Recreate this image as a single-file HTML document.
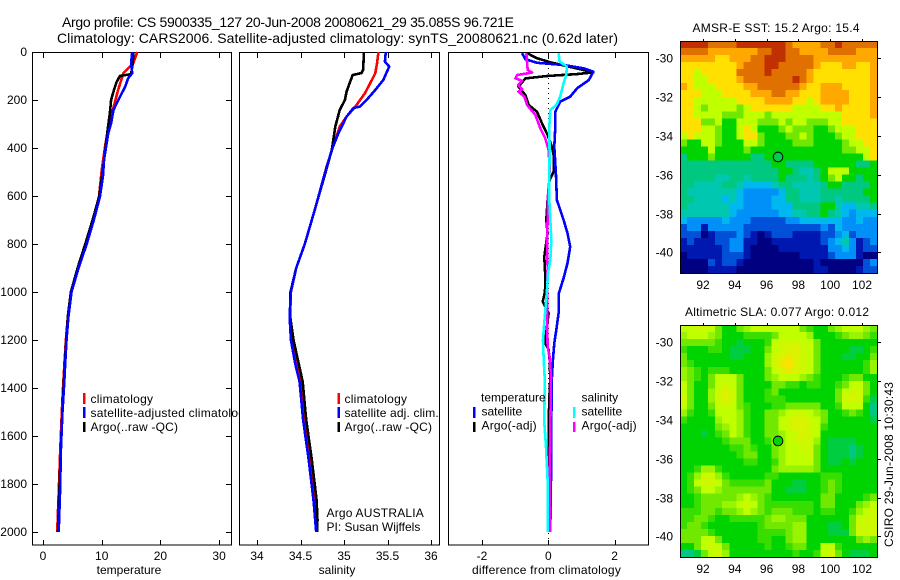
<!DOCTYPE html>
<html>
<head>
<meta charset="utf-8">
<title>Argo profile</title>
<style>
html,body{margin:0;padding:0;background:#fff;width:900px;height:580px;overflow:hidden}
svg{display:block}
text{font-family:"Liberation Sans",Arial,sans-serif;fill:#000;font-size:12px}
.title{font-size:14px}
</style>
</head>
<body>
<svg id="fig" xmlns="http://www.w3.org/2000/svg" width="900" height="580" viewBox="0 0 900 580">
<rect x="0" y="0" width="900" height="580" fill="#fff"/>
<text class="title" x="62" y="27" textLength="452" lengthAdjust="spacing">Argo profile: CS 5900335_127 20-Jun-2008 20080621_29 35.085S 96.721E</text>
<text class="title" x="57" y="43" textLength="561" lengthAdjust="spacing">Climatology: CARS2006. Satellite-adjusted climatology: synTS_20080621.nc (0.62d later)</text>
<g id="layers"></g>
</svg>
<script>
// ---------- shared axis data ----------
var depthTicks = [0,200,400,600,800,1000,1200,1400,1600,1800,2000];
var tempTicks = [0,10,20,30];
var salTicks = [34,34.5,35,35.5,36];
var salTickLabels = ['34','34.5','35','35.5','36'];
var diffTicks = [-2,0,2];
var lonTicks = [92,94,96,98,100,102];
var latTicks = [-30,-32,-34,-36,-38,-40];

// ---------- temperature panel ----------
var tempClimDepth = [0,46,88,158,233,290,395,492,603,700,800,900,1000,1100,1200,1300,1400,1500,1650,1800,2000];
var tempClimValue = [16.05,15.4,13.7,12.8,12.0,11.3,10.56,10.0,9.54,8.5,7.25,5.95,4.8,4.25,3.9,3.65,3.4,3.2,2.95,2.72,2.42];
var tempArgoDepth = [0,46,92,100,124,158,200,254,325,408,492,603,700,800,900,1000,1100,1200,1300,1400,1500,1650,1800,2000];
var tempArgoValue = [15.4,15.3,15.0,13.1,12.55,12.1,11.6,11.4,11.0,10.6,10.2,9.55,8.45,7.2,5.9,4.75,4.25,3.95,3.72,3.5,3.3,3.05,2.82,2.55];
var tempSatDepth = [0,46,88,110,144,192,242,297,339,450,519,603,700,800,900,1000,1100,1200,1300,1374,1505,1645,1838,2000];
var tempSatValue = [15.2,15.0,15.2,14.5,14.0,13.0,12.0,11.6,11.1,10.4,10.2,9.7,8.65,7.45,6.05,4.85,4.35,4.0,3.78,3.63,3.3,3.07,2.9,2.67];

// ---------- salinity panel ----------
var salClimDepth = [0,46,88,117,172,228,269,311,387,478,650,800,900,1000,1100,1200,1300,1374,1533,1686,1867,2000];
var salClimValue = [35.395,35.38,35.36,35.32,35.24,35.13,35.03,34.95,34.88,34.80,34.67,34.55,34.45,34.39,34.38,34.41,34.46,34.505,34.55,34.605,34.665,34.69];
var salArgoDepth = [0,75,88,96,124,165,200,242,311,408,505,650,800,900,1000,1100,1200,1300,1374,1533,1686,1867,1950,2000];
var salArgoValue = [35.23,35.22,35.20,35.10,35.07,35.03,35.01,34.95,34.90,34.86,34.785,34.67,34.55,34.45,34.385,34.38,34.42,34.48,34.525,34.565,34.625,34.685,34.695,34.69];
var salSatDepth = [0,40,61,117,158,200,228,233,269,339,408,505,650,800,900,1000,1100,1200,1300,1374,1533,1686,1867,2000];
var salSatValue = [35.48,35.47,35.52,35.45,35.36,35.26,35.18,35.11,35.03,34.935,34.86,34.78,34.67,34.55,34.45,34.39,34.375,34.39,34.44,34.49,34.53,34.59,34.65,34.68];

// ---------- difference panel ----------
var diffTempSatDepth = [5,30,45,54,68,82,117,151,186,207,249,311,395,505,617,700,755,811,880,942,1005,1088,1158,1213,1283,1358,1546,1775,1999];
var diffTempSatValue = [-0.79,-0.69,-0.34,0.46,1.06,1.36,1.22,0.87,0.66,0.36,0.21,0.21,0.18,0.23,0.26,0.46,0.58,0.66,0.58,0.46,0.32,0.31,0.24,0.18,0.14,0.11,0.09,0.08,0.06];
var diffTempArgoDepth = [5,26,43,75,85,92,100,110,144,179,221,249,297,346,395,429,499,533,617,700,755,853,936,1000,1040,1060,1088,1179,1220,1240,1283,1358,1450,1550,1750];
var diffTempArgoValue = [-0.64,-0.34,0.06,1.06,1.36,0.86,-0.04,-0.69,-0.9,-0.69,-0.59,-0.34,-0.19,-0.02,0.11,0.16,0.16,0.04,-0.02,-0.06,-0.02,-0.12,-0.09,-0.1,-0.17,-0.09,0.01,-0.07,-0.07,0.01,0.04,0.06,0.03,0.01,0.01];
var diffSalSatDepth = [5,40,61,96,130,186,221,242,311,421,533,617,700,783,867,921,992,1075,1129,1200,1283,1358,1546,1645,1783,1999];
var diffSalSatValue = [0.31,0.34,0.56,0.54,0.46,0.36,0.24,0.06,0.03,0.04,0.03,0.03,0.06,0.09,0.06,-0.01,-0.04,-0.09,-0.12,-0.16,-0.14,-0.11,-0.12,-0.07,-0.02,-0.02];
var diffSalArgoDepth = [5,47,75,86,96,110,120,137,155,165,186,221,262,318,360,408,478,533,617,700,797,894,1088,1228,1270,1353,1783,1999];
var diffSalArgoValue = [-0.66,-0.64,-0.62,-0.49,-0.94,-0.99,-0.79,-0.91,-0.79,-0.9,-0.72,-0.64,-0.39,-0.24,-0.09,0.01,0.04,0.03,-0.02,-0.02,-0.04,-0.02,-0.04,-0.02,0.04,0.08,0.04,0.06];

// ---------- map data (colour-scale level per cell, north to south) ----------
var sstGrid = [
[13,13,13,13,12,12,12,12,13,13,13,13,13,13,13,12,11,11,11,11,12,12,13,12,12,12,12,12],
[12,12,12,12,11,11,11,11,11,11,11,12,12,13,13,12,12,11,11,11,11,12,12,12,12,11,11,11],
[11,11,11,11,11,10,10,11,11,11,12,12,13,13,13,12,12,12,12,11,11,11,11,11,11,11,11,11],
[10,10,10,10,10,10,10,10,11,12,12,12,13,13,12,12,12,12,12,11,10,10,10,11,11,10,10,11],
[10,10,9,10,10,10,10,10,12,12,12,12,13,12,12,12,12,12,11,10,10,10,10,10,10,10,10,11],
[10,10,9,9,10,10,10,10,11,12,12,12,12,12,12,12,13,12,11,10,10,10,10,10,10,10,10,11],
[11,10,9,9,9,10,10,10,10,11,11,12,12,12,12,12,12,11,10,10,11,11,11,10,10,10,10,11],
[10,10,10,9,9,9,10,10,10,10,11,11,11,12,12,11,11,10,10,10,11,11,11,11,10,10,10,11],
[10,10,9,9,9,9,9,9,10,10,10,10,11,11,11,11,10,10,9,10,11,11,11,11,10,10,10,11],
[10,10,9,8,9,9,9,9,8,9,10,10,10,10,10,10,9,9,9,9,10,10,11,10,10,10,10,11],
[10,10,9,9,9,9,8,8,8,9,9,9,8,9,9,9,9,9,9,9,9,9,9,10,10,10,10,11],
[10,10,10,8,8,9,7,7,9,9,9,8,8,8,9,8,9,9,8,8,8,9,9,10,10,10,10,10],
[10,10,10,9,9,8,7,7,9,10,9,7,7,7,8,9,8,8,8,7,7,8,9,9,9,10,10,10],
[9,10,9,9,9,8,7,7,9,10,10,8,7,7,7,8,8,9,8,7,7,7,8,9,9,10,10,10],
[8,7,7,9,9,8,7,7,7,9,9,8,7,7,7,7,8,8,8,7,7,7,7,8,9,9,10,10],
[7,7,7,7,9,7,7,7,7,8,7,7,7,7,7,7,7,7,7,7,7,7,7,8,8,9,9,10],
[6,7,7,7,8,7,7,7,7,7,6,6,7,7,7,7,7,7,7,7,7,7,7,7,7,7,9,10],
[6,6,6,6,6,6,6,6,6,6,6,6,6,7,7,6,6,6,6,7,7,7,7,7,7,6,6,7],
[6,6,6,6,6,6,6,6,6,6,6,6,6,6,7,7,6,5,5,6,7,9,9,9,7,7,7,7],
[6,6,6,6,6,5,5,6,6,5,6,6,6,6,7,6,6,6,5,6,7,8,9,7,7,6,7,7],
[6,6,5,5,5,5,6,6,5,4,4,4,4,5,6,6,5,5,5,5,6,7,7,6,6,6,6,7],
[6,5,5,5,5,5,5,5,4,3,3,3,3,3,4,6,6,5,5,5,6,6,6,6,6,6,7,7],
[6,6,5,5,5,5,4,5,4,3,3,3,3,4,4,6,6,5,5,5,6,6,5,6,6,6,6,7],
[6,5,5,5,5,5,5,4,4,3,3,3,3,4,4,4,6,6,6,6,7,7,5,4,4,5,5,6],
[5,5,5,5,5,5,5,4,3,3,3,3,3,3,4,4,5,5,6,6,7,6,5,4,3,4,4,4],
[4,3,3,3,3,3,4,3,3,3,2,2,2,2,2,3,3,4,4,4,4,4,4,3,3,4,3,3],
[2,3,3,1,3,3,3,3,3,2,2,2,2,2,2,2,2,2,2,2,3,2,4,3,3,3,3,3],
[2,2,2,0,1,2,2,2,3,2,1,0,1,2,2,2,1,1,1,1,2,2,3,4,2,3,3,3],
[1,2,1,1,1,2,2,3,3,1,1,0,0,1,1,1,1,1,1,1,2,3,4,5,3,1,2,3],
[1,1,1,1,1,1,2,3,3,1,0,0,0,0,1,1,1,1,1,1,1,3,3,4,3,1,2,2],
[0,1,1,1,1,1,2,2,2,1,0,0,0,0,0,0,0,1,1,1,1,2,3,3,3,1,0,0],
[0,0,0,0,2,1,2,2,1,0,0,0,0,0,0,0,0,0,0,1,0,0,0,0,0,0,2,3],
[0,0,0,0,1,1,1,1,0,0,0,0,0,0,0,0,0,0,0,1,1,0,0,0,0,1,2,2]
];
var slaGrid = [
[9,9,9.2,9.2,9,8,7,7,8,8.5,9,9,9,9,9,9,9,8,7.5,7,7,8,8.5,9,9,9,8.5,8],
[8.5,9,9,9,8.5,8,7,7,7,7.5,7.5,7.5,7.5,8,9,9,9,9,8.5,7,7,7,7.5,8,8.5,8.5,8,7.5],
[8,8,8,8,8,7.5,7,7,6.5,7,7,7,7.5,9,9.2,9.2,9.2,9,9,8,7,7,7,7,7,7,7,7],
[7.5,7,7,7,7.5,7.5,7,6.5,6.5,6.5,7,7,8,9,9.2,9.4,9.4,9.2,9,8,7,7,7,7,6.5,6.5,7,7.5],
[8,7,7,7,7,7,7,6.5,6.5,7,7,7,8.5,9.2,9.4,9.7,9.4,9.2,9,8,7,7,7,6.5,6.5,7,7,8],
[8,7.5,7,7,7,7,7,7,7,7,7,7,8.5,9.2,9.7,10,9.4,9.2,9,8,7,7,7,7,7,7,7.5,8.5],
[8.5,8,7.5,7,7.5,7.5,7.5,7,7,7,7,7,8,9,9.4,9.7,9.4,9.2,9,8,7,7,7,7,7,7,7.5,8.5],
[8.5,8,7.5,7,8,9,9,9,8,7,7,7,8,8.5,9,9,9,8.5,8,7.5,7,7,7,7.5,8,8,7,7],
[9,8,7,7,8,9,9.2,9,8,7,7,7,7,8,8,7.5,7.5,7,7.5,7.5,7,7,7.5,8,9,9,8,7],
[9,8,7,7,8.5,9.2,9.4,9.2,8,7,7,7,7.5,8,7,7,7,7,7,7,7,7,8,9,9.2,9.2,8,7],
[9.2,8,7,7,8.5,9.2,9.4,9.2,8,7,7,7,7.5,7.5,7.5,7,7,7,7,7,7,7,8,9.2,9.4,9.2,7.5,6.5],
[9,8,7,7,8,9,9.2,9,8,7.5,7,7,7,7.5,7.5,8,8,8,8,8,7,7,7.5,9,9,9,7,6],
[8.5,7.5,7,7,7.5,9,9,9,8.5,7.5,7,7,8,8,8.5,9,9.2,9.2,9,8.5,8,7,7,7.5,8,7.5,7,6],
[7.5,7,7,7,7,8.5,9,9,8.5,7.5,7,7,8,8,9,9.2,9.4,9.4,9.2,9,8,7,7,7,7,7,7,6.5],
[7,7,7,7,7,8,8.5,9,8.5,7.5,7,7,8,8,9,9.2,9.4,9.4,9.2,9,7.5,7,7,7,7,7,7,7],
[7,7,7,6.5,7,7.5,8,9,8.5,7.5,7,7,8,8,8.5,9,9.2,9.4,9.2,9,7,7,7,7,7,7,7,7],
[7,7,7,7,7,7,7.5,8,8,8,7,7,7.5,8.5,8.5,9,9.2,9.2,9.2,8.5,7,6.5,6.5,6.5,6.5,7,7,7],
[7,7,7,7,7,7,7,7.5,7.5,8,7.5,7,7,8,8.5,9,9,9.2,9.2,8,7,6.5,6.5,6.5,6,6.5,7,7],
[7,7,7,7,7,7,7,7,7.5,8,8,7,7,8,8.5,9,9,9,9.2,8,7,6.5,6.5,6.5,6,6.5,7,7],
[7,7,7,7,7,7,7,7,7,7.5,7.5,7,7,7.5,8.5,9,9,9,9,8,7,6.5,6.5,7,6.5,7,7,7],
[7,7,7.5,8.5,8.5,7.5,7,7,7,7,7,7,7,8,8.5,8.5,8.5,8.5,8.5,8,7,7,7,7,7,7,7,7],
[7,7.5,8.5,9.2,9.2,8.5,7.5,7,7,7,7,7,7.5,7.5,7,7,7,7,7,7,7.5,7.5,7.5,7,7,7,7,7],
[7,7.5,9,9.2,9.2,9,8,7.5,7.5,7.5,7.5,7.5,8,7,7,7,6.5,6.5,7,7,7.5,8,7.5,7,7,7,7,7],
[7,7.5,8,9,9,8.5,8,8,8,8,8,8,8,7,7,6.5,6.5,6.5,7,7,7.5,8,7.5,7,7,7,7,7],
[7,7,7.5,8,8,8,8,8,8.5,9,8.5,8,7.5,7,7,7,7,7,7,7,8,8,7,7,7,7,7.5,8],
[7,7,7.5,8,8,8,8.5,8.5,9,9.2,9,8,7.5,7.5,7.5,7.5,7.5,7.5,7.5,7,8,8,7,7,7,8,8.5,9],
[7.5,7.5,7.5,8,8,7.5,8,8,8.5,9,8.5,8,7.5,8,8,8,7.5,7.5,7.5,7,7.5,7.5,7,7,7.5,8.5,9,9.2],
[7.5,7.5,8,8,7.5,7,7,7.5,7.5,7.5,7.5,7.5,8,8.5,8.5,8,8,8,7,7,7,7,7,7,8,9,9.2,9.2],
[7.5,8,8,7.5,7,7,7,7,7,7,7,7.5,8,8,8,8,8.5,8.5,7,7,7,6.5,6.5,7,8,9.2,9.2,9.2],
[8,8,8,8,7.5,7,7,7,7,7,7,7.5,7.5,7.5,7.5,8,8.5,8.5,7,7,7,6.5,6.5,6.5,8,9.2,9.2,9.2],
[8,8,8,9,9,8,7,7,7,7,7,7.5,7.5,7,7,8,8.5,8.5,7,7,7,7,7,7,7,8,8.5,8],
[7,7,8,9,9.2,9,8,7,7,7,7,7,7.5,7,7,7.5,8,8,7,7,9,9,7.5,7,7,7,7,7],
[6,6,6.5,8,9,9.2,8.5,7,7,7,7,7,7,7,7,7,7.5,7,7,7.5,9,9.2,8,7,6.5,6.5,6.5,7]
];
var argoLon = [96.72];
var argoLat = [-35.085];
var sstArgoLevel = [6.4];
var slaArgoLevel = [7];

// ---------- drawing ----------
var NS = 'http://www.w3.org/2000/svg';
var layers = document.getElementById('layers');
var colourStops = ['#000080','#0018b0','#0050d8','#0090f8','#00b8f0','#00c8b0','#00c880','#00d400','#70e800','#c0ff00','#ffe000','#ffa800','#e07000','#c03000'];

function hexRgb(h){return [parseInt(h.substr(1,2),16),parseInt(h.substr(3,2),16),parseInt(h.substr(5,2),16)];}
function levelColour(v){
  var c = Math.max(0,Math.min(13,v)), i = Math.floor(c), f = c-i;
  var a = hexRgb(colourStops[i]), b = hexRgb(colourStops[Math.min(13,i+1)]);
  return 'rgb('+[0,1,2].map(function(k){return Math.round(a[k]+(b[k]-a[k])*f);}).join(',')+')';
}
function el(tag, parent, attrs, txt){
  var e = document.createElementNS(NS, tag);
  for (var k in attrs) e.setAttribute(k, attrs[k]);
  if (txt !== undefined) e.textContent = txt;
  parent.appendChild(e);
  return e;
}
function depthY(d){return 52 + 0.24*d;}
function tempX(v){return 43 + 5.87*v;}
function salX(v){return 257 + 87*(v-34);}
function diffX(v){return 548.3 + 33.17*v;}

function panel(name, left, right){
  var g = el('g', layers, {});
  
  
  var box = el('rect', g, {x:left+0.5, y:52.5, width:right-left, height:492.5, fill:'#fff', stroke:'#000', 'stroke-width':1, 'shape-rendering':'crispEdges'});
  
  
  return g;
}
function xAxis(g, name, ticks, labels, xf){
  ticks.forEach(function(t,i){
    var x = Math.round(xf(t))+0.5;
    var a = el('path', g, {d:'M'+x+' 53V58M'+x+' 545V540', stroke:'#000', 'stroke-width':1, fill:'none', 'shape-rendering':'crispEdges'});
    
    
    var l = el('text', g, {x:xf(t), y:560, 'text-anchor':'middle'}, labels[i]);
    
    
  });
}
function series(g, name, colour, depths, vals, xf){
  var pts = depths.map(function(d,i){return xf(vals[i]).toFixed(1)+','+depthY(d).toFixed(1);}).join(' ');
  var p = el('polyline', g, {points:pts, fill:'none', stroke:colour, 'stroke-width':2.6, 'stroke-linejoin':'round', 'shape-rendering':'crispEdges'});
  
  
}
function legendEntry(g, name, colour, mx, tx, top, bottom, label, baseline, spacing){
  var m = el('rect', g, {x:mx, y:top, width:2.6, height:bottom-top, fill:colour, 'shape-rendering':'crispEdges'});
  
  
  var t = el('text', g, {x:tx, y:baseline, 'letter-spacing':spacing}, label);
  
  
}
function plainText(g, name, x, y, label, anchor){
  var t = el('text', g, {x:x, y:y, 'text-anchor':anchor||'start'}, label);
  
  
  return t;
}

// panel 1
var p1 = panel('temperature-panel', 32, 231);
depthTicks.forEach(function(d){
  var y = Math.round(depthY(d))+0.5;
  var tk = el('path', p1, {d:'M33 '+y+'H38M231 '+y+'H226', stroke:'#000', 'stroke-width':1, fill:'none', 'shape-rendering':'crispEdges'});
  
  
  plainText(p1, 'depth-tick-label', 27, y+3.5, String(d), 'end');
});
xAxis(p1, 'temperature-axis', tempTicks, tempTicks.map(String), tempX);
series(p1, 'temperature-climatology-line', '#ff0000', tempClimDepth, tempClimValue, tempX);
series(p1, 'temperature-argo-line', '#000000', tempArgoDepth, tempArgoValue, tempX);
series(p1, 'temperature-satellite-line', '#0000ff', tempSatDepth, tempSatValue, tempX);
plainText(p1, 'temperature-axis-title', 129, 574, 'temperature', 'middle');
legendEntry(p1, 'legend-climatology', '#ff0000', 83, 90.5, 393, 404, 'climatology', 403, 0.25);
legendEntry(p1, 'legend-satellite-adjusted', '#0000ff', 83, 90.5, 407, 418, 'satellite-adjusted climatology', 417, 0.25);
legendEntry(p1, 'legend-argo', '#000000', 83, 90.5, 422, 432, 'Argo(..raw -QC)', 431, 0.2);

// panel 2
var p2 = panel('salinity-panel', 239, 439);
xAxis(p2, 'salinity-axis', salTicks, salTickLabels, salX);
series(p2, 'salinity-climatology-line', '#ff0000', salClimDepth, salClimValue, salX);
series(p2, 'salinity-argo-line', '#000000', salArgoDepth, salArgoValue, salX);
series(p2, 'salinity-satellite-line', '#0000ff', salSatDepth, salSatValue, salX);
plainText(p2, 'salinity-axis-title', 337, 574, 'salinity', 'middle');
legendEntry(p2, 'legend-sal-climatology', '#ff0000', 337.5, 344.5, 393, 404, 'climatology', 403, 0.25);
legendEntry(p2, 'legend-sal-satellite', '#0000ff', 337.5, 344.5, 407, 418, 'satellite adj. clim.', 417, 0.15);
legendEntry(p2, 'legend-sal-argo', '#000000', 337.5, 344.5, 422, 432, 'Argo(..raw -QC)', 431, 0.2);
plainText(p2, 'float-owner-label', 326.5, 517, 'Argo AUSTRALIA').setAttribute('letter-spacing', 0.2);
plainText(p2, 'principal-investigator-label', 326.5, 531, 'PI: Susan Wijffels');

// panel 3
var p3 = panel('difference-panel', 448, 648);
xAxis(p3, 'difference-axis', diffTicks, diffTicks.map(String), diffX);
var zero = el('line', p3, {x1:diffX(0), x2:diffX(0), y1:53, y2:545, stroke:'#000', 'stroke-width':1, 'stroke-dasharray':'1 4', 'shape-rendering':'crispEdges'});


series(p3, 'difference-temperature-argo-line', '#000000', diffTempArgoDepth, diffTempArgoValue, diffX);
series(p3, 'difference-temperature-satellite-line', '#0000ff', diffTempSatDepth, diffTempSatValue, diffX);
series(p3, 'difference-salinity-argo-line', '#ff00ff', diffSalArgoDepth, diffSalArgoValue, diffX);
series(p3, 'difference-salinity-satellite-line', '#00ffff', diffSalSatDepth, diffSalSatValue, diffX);
plainText(p3, 'difference-axis-title', 546.5, 574, 'difference from climatology', 'middle').setAttribute('letter-spacing', 0.22);
plainText(p3, 'legend-temperature-heading', 481, 401.5, 'temperature');
plainText(p3, 'legend-salinity-heading', 581.5, 401.5, 'salinity');
legendEntry(p3, 'legend-temperature-satellite', '#0000ff', 473, 481.5, 407, 418, 'satellite', 415.5, 0);
legendEntry(p3, 'legend-temperature-argo', '#000000', 473, 481.5, 422, 432, 'Argo(-adj)', 429.5, 0.2);
legendEntry(p3, 'legend-salinity-satellite', '#00ffff', 573, 581.5, 407, 418, 'satellite', 415.5, 0);
legendEntry(p3, 'legend-salinity-argo', '#ff00ff', 573, 581.5, 422, 432, 'Argo(-adj)', 429.5, 0.2);

// maps
function map(name, grid, top, lat30Y, titleText, titleX, titleLen, level){
  var g = el('g', layers, {});
  
  
  var L = 680, R = 877, H = 232;
  var rows = grid.length, cols = grid[0].length;
  var cw = (R-L)/cols, ch = H/rows;
  grid.forEach(function(row,r){
    row.forEach(function(v,c){
      var cell = el('rect', g, {x:(L+c*cw).toFixed(2), y:(top+r*ch).toFixed(2), width:(cw+0.4).toFixed(2), height:(ch+0.4).toFixed(2), fill:levelColour(v), 'shape-rendering':'crispEdges'});
      
      
    });
  });
  var frame = el('rect', g, {x:L+0.5, y:top+0.5, width:R-L, height:H, fill:'none', stroke:'#000', 'stroke-width':1, 'shape-rendering':'crispEdges'});
  
  
  function lonX(v){return 703 + 15.9*(v-92);}
  function latY(v){return lat30Y + 19.4*(-30-v);}
  lonTicks.forEach(function(v){
    var x = Math.round(lonX(v))+0.5;
    var t = el('line', g, {x1:x, x2:x, y1:top-2, y2:top, stroke:'#000', 'stroke-width':1, 'shape-rendering':'crispEdges'});
    
    
    plainText(g, name+'-longitude-label', lonX(v), top+H+16, String(v), 'middle');
  });
  latTicks.forEach(function(v){
    var y = Math.round(latY(v))+0.5;
    var t = el('line', g, {x1:R+1, x2:R+4, y1:y, y2:y, stroke:'#000', 'stroke-width':1, 'shape-rendering':'crispEdges'});
    
    
    plainText(g, name+'-latitude-label', 673, y+4, String(v), 'end');
  });
  var c = el('circle', g, {cx:lonX(argoLon[0]), cy:latY(argoLat[0]), r:4.8, fill:levelColour(level), stroke:'#000', 'stroke-width':1});
  
  
  var ti = el('text', g, {x:titleX, y:top-9, textLength:titleLen, lengthAdjust:'spacing'}, titleText);
  
  
}
map('sst-map', sstGrid, 41, 58.3, 'AMSR-E SST: 15.2 Argo: 15.4', 692.5, 167, sstArgoLevel[0]);
map('sla-map', slaGrid, 325, 342.3, 'Altimetric SLA: 0.077 Argo: 0.012', 685, 184, slaArgoLevel[0]);

var stamp = el('text', layers, {x:0, y:0, transform:'translate(893 547) rotate(-90)', textLength:165, lengthAdjust:'spacing'}, 'CSIRO 29-Jun-2008 10:30:43');


</script>
</body>
</html>
